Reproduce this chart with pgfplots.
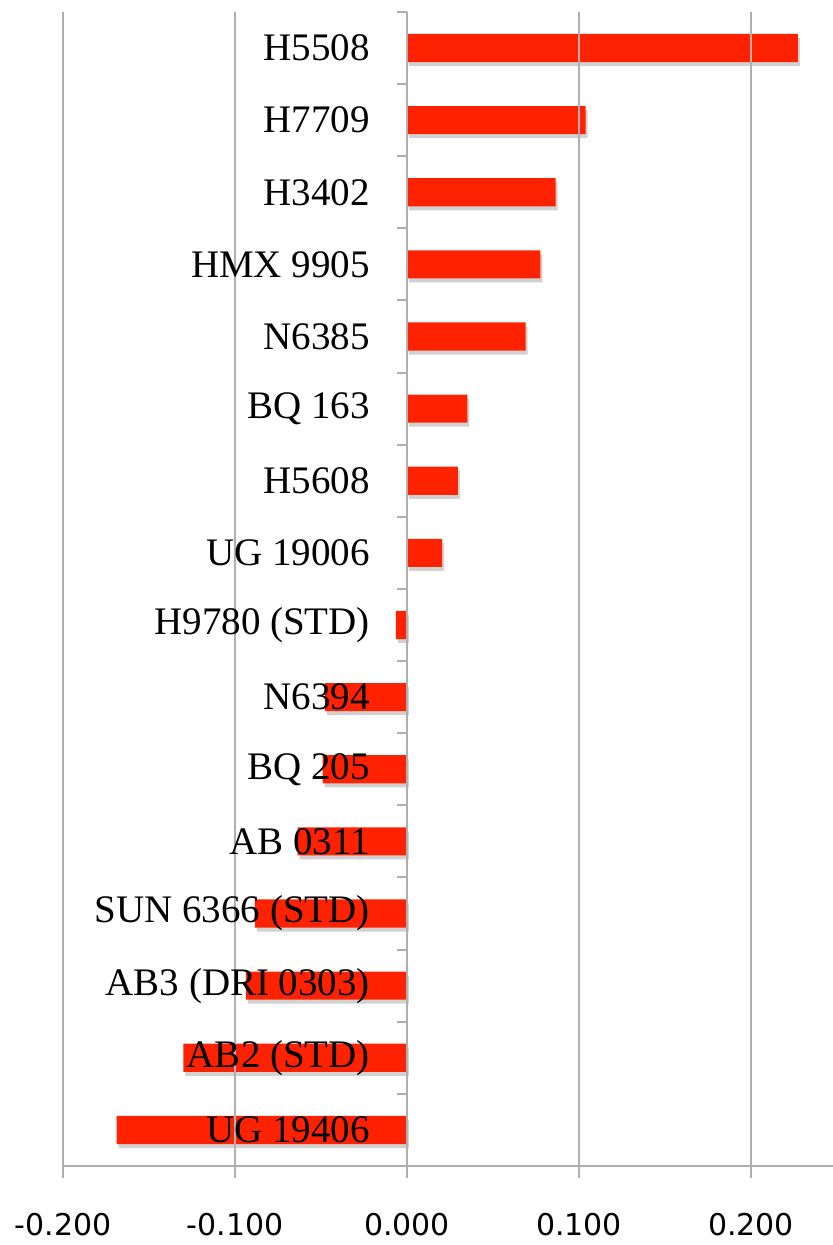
\documentclass[border=0pt]{standalone}
\usepackage{pgfplots}
\pgfplotsset{compat=1.18}
\usepackage{fontspec}
\setmainfont{Liberation Serif}
\newfontfamily\tickfont{DejaVu Sans}
\definecolor{barred}{RGB}{255,34,0}
\definecolor{gridgray}{RGB}{175,175,175}
\pgfplotsset{
  layers/mylayers/.define layer set={axis background,axis grid,bars,axis ticks,axis lines,axis tick labels,main,axis descriptions,axis foreground}{},
}
\begin{document}
\begin{tikzpicture}
\begin{axis}[
  set layers=mylayers,
  scale only axis,
  width=385pt, height=577pt,
  xmin=-0.2, xmax=0.2477,
  ymin=-0.5, ymax=15.5,
  y dir=reverse,
  xbar, bar width=0.39, bar shift=0pt,
  axis x line*=bottom,
  axis y line*=middle,
  hide obscured x ticks=false,
  axis line style={gridgray, line width=1pt},
  xtick={-0.2,-0.1,0,0.1,0.2},
  xticklabels={-0.200,-0.100,0.000,0.100,0.200},
  xmajorgrids,
  grid style={gridgray, line width=1pt},
  x tick style={gridgray, line width=1pt},
  xtick align=outside,
  ytick align=outside,
  major tick length=6pt,
  xticklabel style={font=\tickfont\fontsize{15}{18}\selectfont, yshift=-14pt},
  ytick={0,...,15},
  yticklabels={H5508,H7709,H3402,HMX 9905,N6385,BQ 163,H5608,UG 19006,H9780 (STD),N6394,BQ 205,AB 0311,SUN 6366 (STD),AB3 (DRI 0303),AB2 (STD),UG 19406},
  y tick style={draw=none},
  yticklabel style={font=\fontsize{19.5}{22}\selectfont, anchor=east, xshift=-9pt},
  minor ytick={-0.5,0.5,...,15.5},
  minor y tick style={draw=gridgray, line width=1pt},
  minor tick length=5pt,
  clip=false,
]
\addplot[on layer=bars, fill=black, fill opacity=0.18, draw=none, xshift=1pt, yshift=-2pt]
  coordinates {
  (0.2273,0) (0.1039,1) (0.0864,2) (0.0775,3) (0.0690,4) (0.0351,5)
  (0.0296,6) (0.0205,7) (-0.0064,8) (-0.0477,9) (-0.0490,10) (-0.0636,11)
  (-0.0884,12) (-0.0937,13) (-0.1300,14) (-0.1688,15)
};
\addplot[on layer=bars, fill=barred, draw=none]
  coordinates {
  (0.2273,0) (0.1039,1) (0.0864,2) (0.0775,3) (0.0690,4) (0.0351,5)
  (0.0296,6) (0.0205,7) (-0.0064,8) (-0.0477,9) (-0.0490,10) (-0.0636,11)
  (-0.0884,12) (-0.0937,13) (-0.1300,14) (-0.1688,15)
};
\end{axis}
\pgfresetboundingbox
\path[use as bounding box] (-31.5pt,-39.5pt) rectangle (385pt,583pt);
\end{tikzpicture}
\end{document}
